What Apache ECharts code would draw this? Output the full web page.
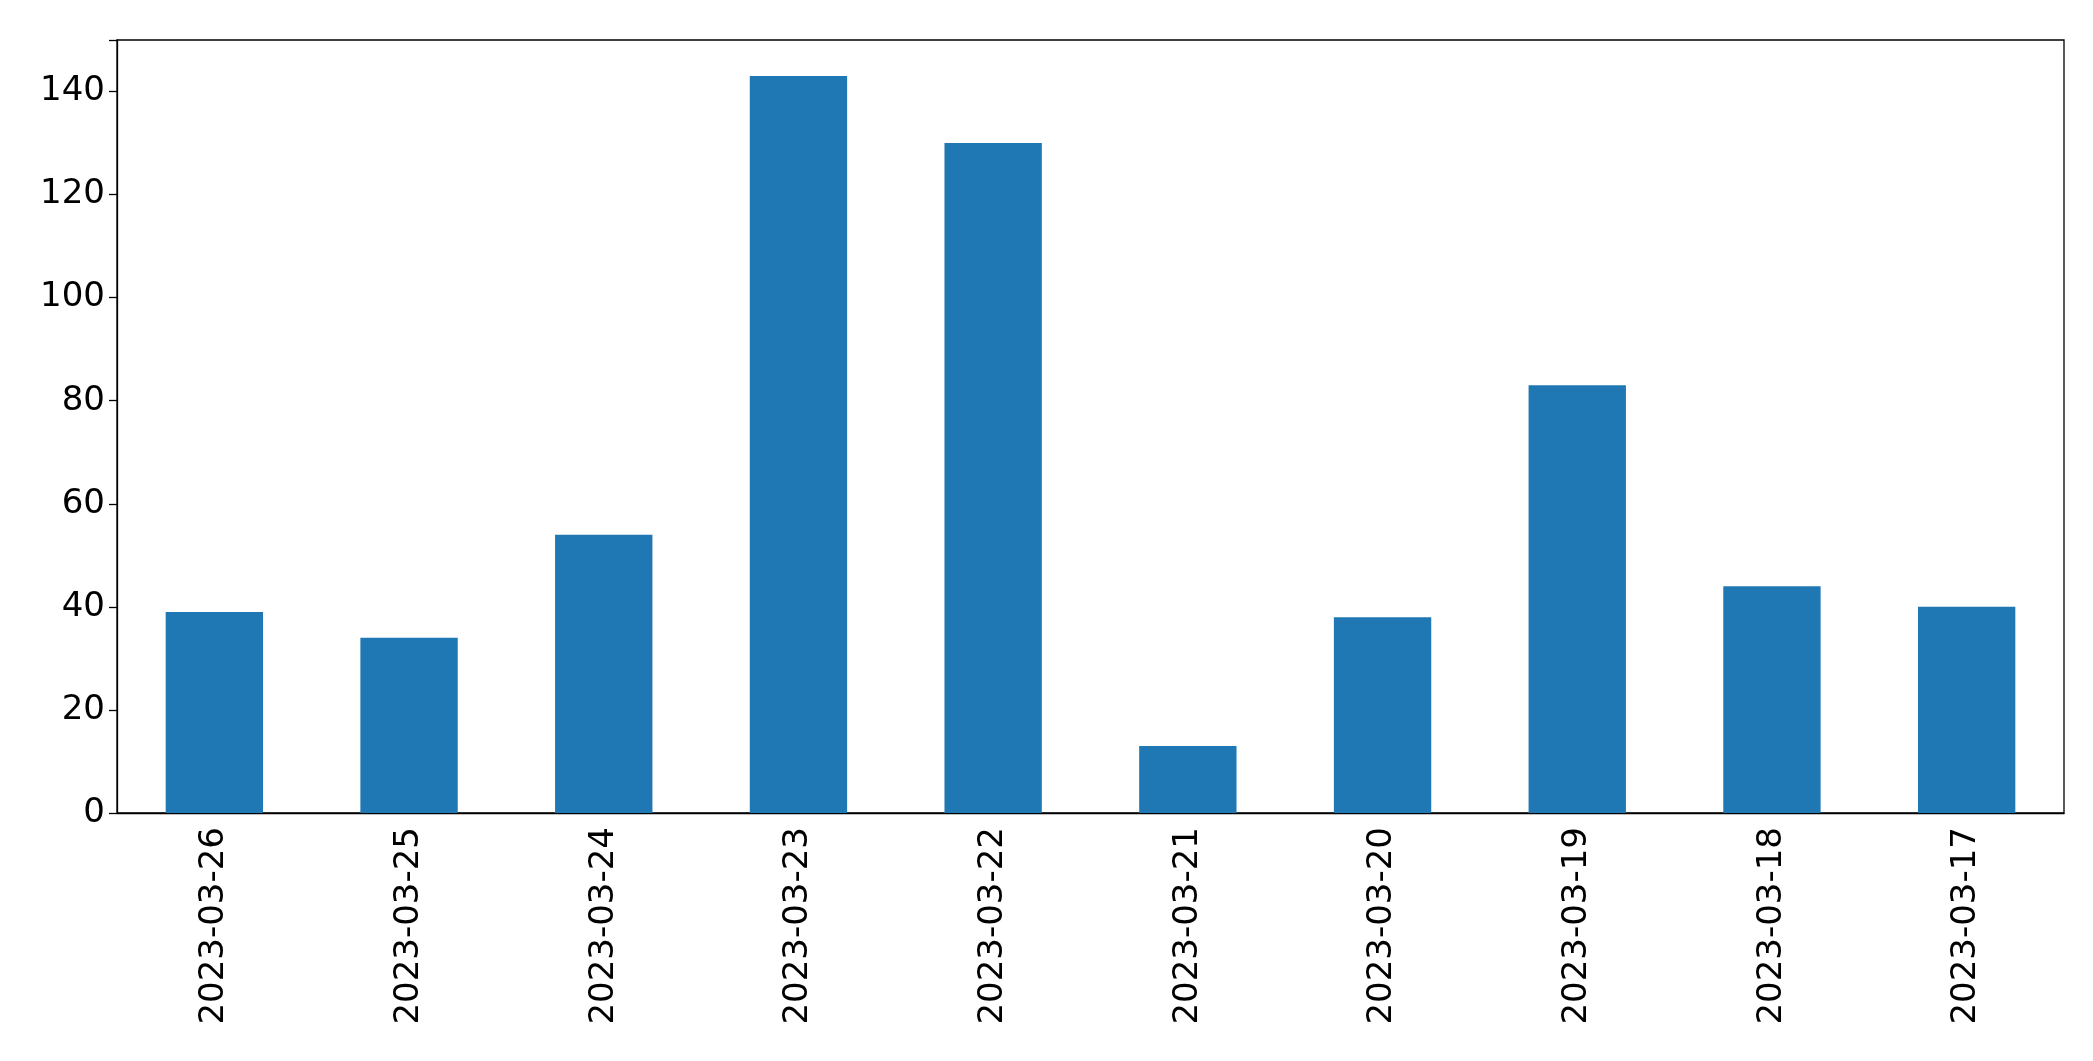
<!DOCTYPE html>
<html><head><meta charset="utf-8">
<script src="https://cdn.jsdelivr.net/npm/echarts@6/dist/echarts.min.js"></script>
<style>html,body{margin:0;padding:0;background:#fff}#c{width:2093px;height:1061px}</style>
</head><body><div id="c"></div>
<script>
const categories = ["2023-03-26","2023-03-25","2023-03-24","2023-03-23","2023-03-22","2023-03-21","2023-03-20","2023-03-19","2023-03-18","2023-03-17"];
const values = [39,34,54,143,130,13,38,83,44,40];
const yTicks = [0,20,40,60,80,100,120,140];
const chart = echarts.init(document.getElementById('c'));
const font = {fontFamily:'DejaVu Sans', fontSize:34, color:'#000'};
chart.setOption({
  animation:false,
  grid:{left:117,right:29,top:40,bottom:248,show:true,borderColor:'#000',borderWidth:1.3},
  xAxis:{type:'category',data:categories,
    axisLine:{lineStyle:{color:'#000',width:1.3}},
    axisTick:{alignWithLabel:true,length:8,lineStyle:{color:'#000',width:1.3}},
    axisLabel:Object.assign({rotate:90,margin:14,interval:0},font)},
  yAxis:{type:'value',min:0,max:150,interval:20,
    axisLine:{show:true,lineStyle:{color:'#000',width:1.3}},
    axisTick:{show:true,length:8,lineStyle:{color:'#000',width:1.3}},
    splitLine:{show:false},
    axisLabel:Object.assign({margin:12,formatter:v=>yTicks.includes(v)?String(v):''},font)},
  series:[{type:'bar',data:values,barCategoryGap:'50%',itemStyle:{color:'#1f77b4'}}]
});
</script></body></html>
